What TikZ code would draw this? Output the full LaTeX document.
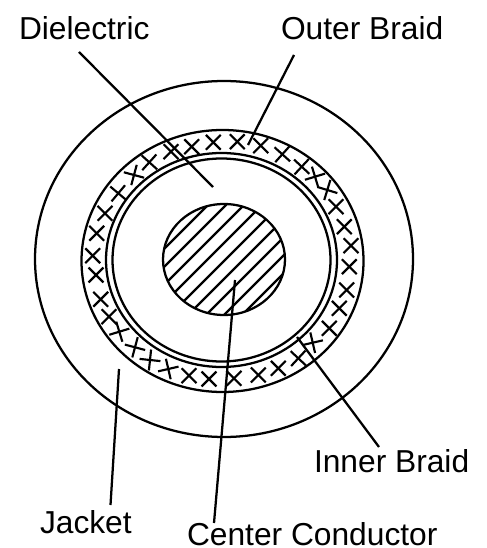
\documentclass[tikz,border=0pt]{standalone}
\usepackage{fontspec}
\setmainfont{Liberation Sans}
\tikzset{
  px/.style={x=0.75pt,y=-0.75pt},
  ink/.style={draw=black,line width=1.7pt},
  wire/.style={draw=black,line width=1.7pt},
  hatchline/.style={draw=black,line width=1.6pt},
  crossmark/.style={draw=black,line width=1.6pt},
  lbl/.style={inner sep=0pt,outer sep=0pt,anchor=base west,font=\fontsize{23.8pt}{26pt}\selectfont}
}
\begin{document}
\begin{tikzpicture}[px]
\useasboundingbox[fill=white] (0,0) rectangle (486,548);
% labels
\node[lbl] (dielectric) at (19,40) {Dielectric};
\node[lbl] (outer) at (281,40) {Outer Braid};
\node[lbl] (inner) at (314,472) {Inner Braid};
\node[lbl] (jacket) at (40,533) {Jacket};
\node[lbl] (center) at (187,545) {Center Conductor};
% cable
\path[ink] (224,259) ellipse [x radius=189, y radius=178];
\path[ink] (222.5,261) ellipse [x radius=141, y radius=131];
\path[ink] (221.5,260) ellipse [x radius=115.5, y radius=107];
\path[ink] (221.5,260) ellipse [x radius=109, y radius=101.5];
\path[ink] (224,259.5) ellipse [x radius=61, y radius=55.5];
\begin{scope}
  \clip (224,259.5) ellipse [x radius=61, y radius=55.5];
  \foreach \s in {413,431,449,467,485,503,521,539,557}
    \path[hatchline] (\s-400,400) -- (\s-100,100);
\end{scope}
% braid crosses
\foreach \x/\y/\a in {
  213.3/142.3/45,191.7/146.7/45,171/151.7/45,149.3/162.3/42,134/175/15,
  118.3/193.3/40,105/213.3/45,96.7/233.3/45,92.7/255.7/45,96/275/45,
  237.3/141.7/45,260.7/145.7/45,282.3/154.3/42,301.7/166.7/43,315/176.7/-17,
  327.3/190/17,336/206.7/45,344.3/226.7/45,351/245.7/45,349.3/266.7/45,
  100.7/299.3/45,109/316.7/45,119.3/331.7/-17,135/347.3/15,150/360/6,
  168.3/369/-13,189/375.7/45,209/379/45,234/378.3/45,258.3/375/45,
  278.3/368.3/45,298.3/358.3/43,312.7/342.7/-13,329.3/328.3/45,
  339.3/308.3/45,346.7/290/45}
{
  \path[crossmark] (\x,\y) ++(\a:10.5) -- ++(\a+180:21);
  \path[crossmark] (\x,\y) ++(\a+90:10.5) -- ++(\a+270:21);
}
% connector ends
\coordinate (dielectricStart) at (79,52);
\coordinate (dielectricEnd) at (213,187);
\coordinate (outerStart) at (294,55);
\coordinate (outerEnd) at (248,145);
\coordinate (innerStart) at (379,447);
\coordinate (innerEnd) at (297,337);
\coordinate (jacketStart) at (110.5,505);
\coordinate (jacketEnd) at (119,369);
\coordinate (centerStart) at (214,523);
\coordinate (centerEnd) at (235,280);
\path[wire] (dielectricStart) -- (dielectricEnd);
\path[wire] (outerStart) -- (outerEnd);
\path[wire] (innerStart) -- (innerEnd);
\path[wire] (jacketStart) -- (jacketEnd);
\path[wire] (centerStart) -- (centerEnd);
\end{tikzpicture}
\end{document}
